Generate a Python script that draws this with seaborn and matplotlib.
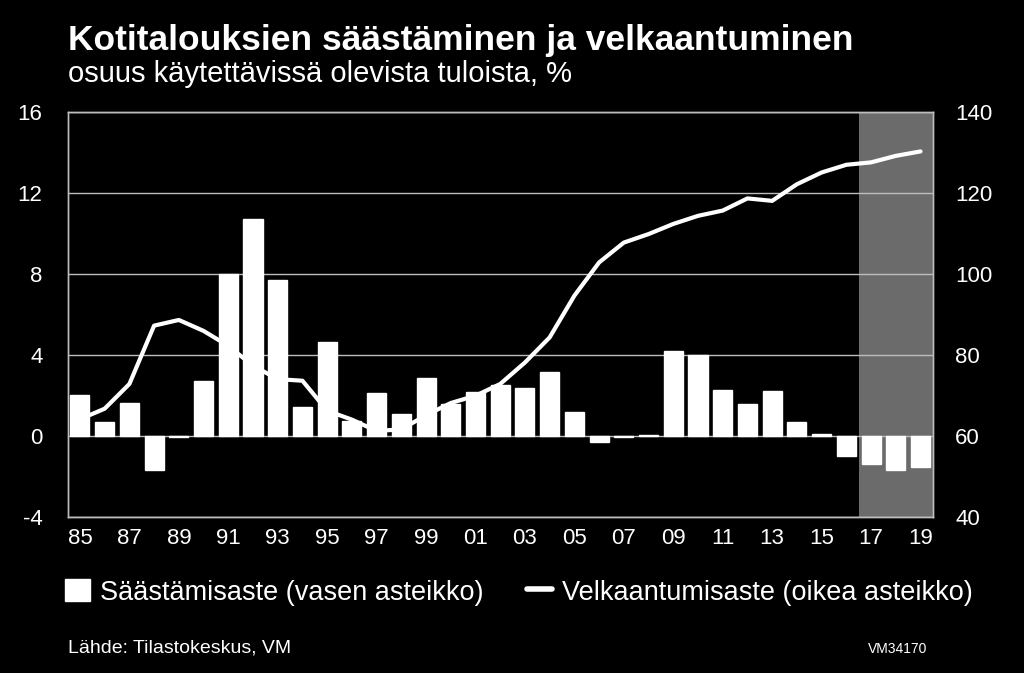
import matplotlib
matplotlib.use('Agg')
import matplotlib.pyplot as plt
import matplotlib.patches as mpatches
import matplotlib.lines as mlines
import numpy as np
import pandas as pd
import seaborn as sns


# Data
years = list(range(1985, 2020))
saving_rate = [2.0, 0.7, 1.6, -1.7, -0.05, 2.7, 8.0, 10.7, 7.7, 1.4,
               4.65, 0.75, 2.1, 1.07, 2.86, 1.55, 2.17, 2.52, 2.37, 3.13,
               1.2, -0.3, -0.05, 0.05, 4.2, 3.98, 2.24, 1.56, 2.19, 0.66,
               0.1, -0.99, -1.4, -1.68, -1.56]
debt_ratio = [64.1, 66.7, 72.8, 87.2, 88.6, 85.9, 82.2, 77.3, 74.0, 73.6,
              66.2, 64.0, 61.2, 61.6, 65.1, 68.1, 69.9, 72.8, 78.1, 84.3,
              94.6, 102.8, 107.7, 109.8, 112.3, 114.3, 115.6, 118.6, 118.0, 122.1,
              125.0, 126.9, 127.5, 129.1, 130.2]
forecast_from = 2017
left_ticks = [-4, 0, 4, 8, 12, 16]
right_ticks = [40, 60, 80, 100, 120, 140]

df = pd.DataFrame({'year': years, 'saving': saving_rate, 'debt': debt_ratio})
df['label'] = [str(y)[2:] for y in df['year']]
df['pos'] = np.arange(len(df))

sns.set_style('dark')
plt.rcParams['font.family'] = ['Liberation Sans', 'DejaVu Sans']
plt.rcParams['axes.unicode_minus'] = False

grey = '#bdbdbd'
fig = plt.figure(figsize=(10.24, 6.73), dpi=100, facecolor='black')
ax = fig.add_axes([0.066, 0.232, 0.845, 0.602])
ax.set_facecolor('black')

# forecast shading
start = df.index[df['year'] == forecast_from][0] - 0.5
ax.axvspan(start, len(df) - 0.5, color='#6b6b6b', zorder=0, lw=0)

for t in left_ticks:
    ax.axhline(t, color=grey, lw=1, zorder=0.5)

sns.barplot(data=df, x='label', y='saving', color='white', saturation=1,
            width=0.77, ax=ax, zorder=2)
ax.set_ylim(-4, 16)
ax.set_yticks(left_ticks)
ax.set_xlim(-0.5, len(df) - 0.5)
ax.set_xticks(df['pos'][::2])
ax.set_xticklabels(df['label'][::2])
ax.set_xlabel('')
ax.set_ylabel('')
ax.grid(False)

ax2 = ax.twinx()
sns.lineplot(data=df, x='pos', y='debt', color='white', lw=3, ax=ax2,
             zorder=3, solid_capstyle='round')
ax2.set_ylim(40, 140)
ax2.set_yticks(right_ticks)
ax2.set_ylabel('')
ax2.grid(False)
ax.set_zorder(1)
ax2.set_zorder(2)
ax2.patch.set_visible(False)

for a in (ax, ax2):
    for s in a.spines.values():
        s.set_color(grey)
        s.set_linewidth(1)
    a.tick_params(colors='white', labelsize=16, length=0)
ax.tick_params(axis='y', pad=18)
ax2.tick_params(axis='y', pad=16)
ax.tick_params(axis='x', pad=8)

fig.text(0.066, 0.926, 'Kotitalouksien säästäminen ja velkaantuminen',
         color='white', fontsize=25.5, fontweight='bold', va='baseline')
fig.text(0.066, 0.878, 'osuus käytettävissä olevista tuloista, %',
         color='white', fontsize=21, va='baseline')

handles = [mpatches.Patch(facecolor='white', edgecolor='white'),
           mlines.Line2D([], [], color='white', lw=4)]
fig.legend(handles, ['Säästämisaste (vasen asteikko)', 'Velkaantumisaste (oikea asteikko)'],
           loc='center', bbox_to_anchor=(0.507, 0.12), ncol=2, frameon=False,
           labelcolor='white', fontsize=19.5, handlelength=0.9, handleheight=0.9,
           handletextpad=0.4, columnspacing=1.6)

fig.text(0.066, 0.03, 'Lähde: Tilastokeskus, VM', color='white', fontsize=14)
fig.text(0.848, 0.03, 'VM34170', color='white', fontsize=10)

fig.savefig('out.png', dpi=100, facecolor='black')
